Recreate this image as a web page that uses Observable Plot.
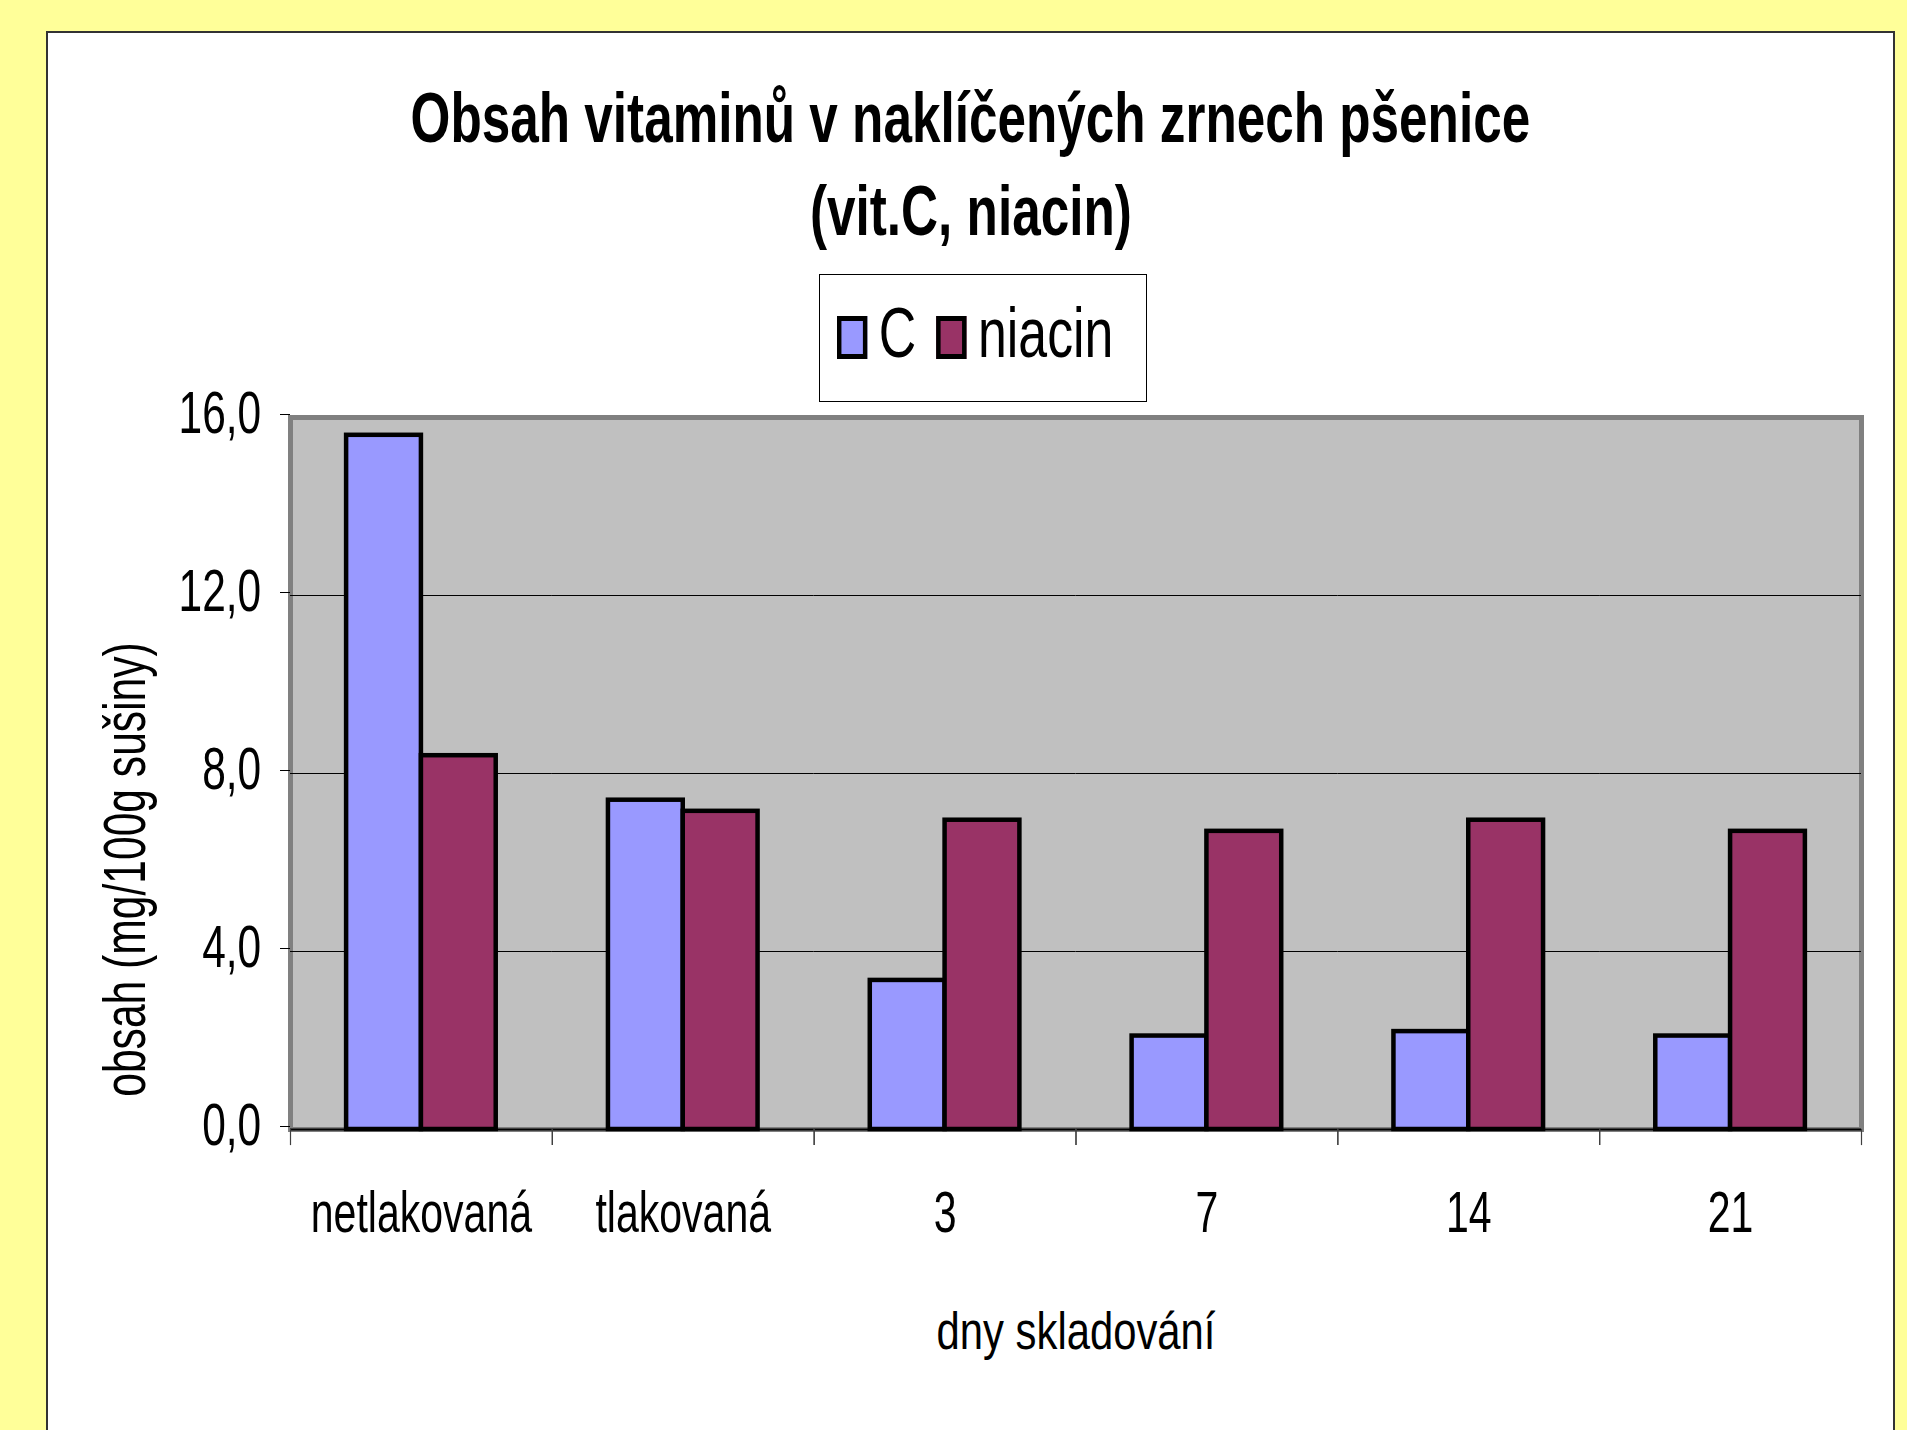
<!DOCTYPE html>
<html><head><meta charset="utf-8">
<script src="https://cdn.jsdelivr.net/npm/d3@7"></script>
<script src="https://cdn.jsdelivr.net/npm/@observablehq/plot@0.6"></script>
<style>
html,body{margin:0;padding:0;overflow:hidden;background:#FFFF99;width:1907px;height:1430px;}
body{position:relative;font-family:"Liberation Sans",Arial,sans-serif;color:#000;}
#panel{position:absolute;left:46px;top:31px;width:1849px;height:1500px;background:#fff;border:2px solid #333;border-bottom:none;box-sizing:border-box;}
#title{position:absolute;left:46px;top:70.9px;width:1849px;font-size:71px;font-weight:bold;line-height:93px;}
#title div{text-align:center;white-space:nowrap;}
#title span{display:inline-block;transform:scaleX(0.722);transform-origin:50% 50%;}
#legend{position:absolute;left:819px;top:274px;width:328px;height:128px;border:1px solid #000;box-sizing:border-box;background:#fff;}
#legendInner{position:absolute;left:17px;top:22.75px;font-size:70px;line-height:70px;white-space:nowrap;transform:scaleX(0.74);transform-origin:0 0;}
.sw{display:inline-block;width:40.5px;height:43px;box-sizing:border-box;border-style:solid;border-color:#000;border-width:5px 6.8px;vertical-align:-2px;margin-right:16px;}
.lab{margin-right:27px;}
#chart{position:absolute;left:0;top:402px;}
#chart svg{max-width:none !important;}
</style></head>
<body>
<div id="panel"></div>
<div id="title"></div>
<div id="legend"><div id="legendInner"></div></div>
<div id="chart"></div>
<script>
const categories = ["netlakovaná", "tlakovaná", "3", "7", "14", "21"];
const series = ["C", "niacin"];
const valuesC = [15.6, 7.4, 3.35, 2.1, 2.2, 2.1];
const valuesNiacin = [8.4, 7.15, 6.95, 6.7, 6.95, 6.7];
const colors = ["#9999FF", "#993366"];
const yTicks = [0, 4, 8, 12, 16];
const yGrid = [4, 8, 12];
const titleLines = ["Obsah vitaminů v naklíčených zrnech pšenice", "(vit.C, niacin)"];
const xTitle = "dny skladování";
const yTitle = "obsah (mg/100g sušiny)";

const FONT = '"Liberation Sans",Arial,sans-serif';
const seriesValues = [valuesC, valuesNiacin];
const table = categories.flatMap((cat, i) => series.map((s, j) => ({cat, series: s, value: seriesValues[j][i]})));

// title
const titleEl = document.getElementById("title");
titleLines.forEach(t => {
  const line = document.createElement("div");
  const span = document.createElement("span");
  span.textContent = t;
  line.appendChild(span);
  titleEl.appendChild(line);
});

// legend
const legendEl = document.getElementById("legendInner");
series.forEach((s, i) => {
  const sw = document.createElement("span");
  sw.className = "sw";
  sw.style.background = colors[i];
  legendEl.appendChild(sw);
  const lab = document.createElement("span");
  lab.className = "lab";
  lab.textContent = s;
  legendEl.appendChild(lab);
});

const W = 1907, H = 1028, mT = 15, mB = 301, mL = 290, mR = 46;
const innerH = H - mT - mB;
const fmt = d => d.toFixed(1).replace(".", ",");

const chart = Plot.plot({
  width: W, height: H,
  marginTop: mT, marginBottom: mB, marginLeft: mL, marginRight: mR,
  style: {background: "transparent", overflow: "visible", fontFamily: FONT, color: "#000"},
  fx: {domain: categories, padding: 0, round: false},
  x: {domain: series, paddingInner: 0, paddingOuter: 0.75, round: false, axis: null},
  y: {domain: [0, 16], nice: false},
  color: {domain: series, range: colors},
  marks: [
    Plot.frame({facet: "super", fill: "#C0C0C0", stroke: "#808080", strokeWidth: 5}),
    Plot.gridY(yGrid, {stroke: "#000", strokeOpacity: 1, strokeWidth: 1}),
    Plot.ruleY([0], {stroke: "#000", strokeWidth: 2}),
    Plot.barY(table, {fx: "cat", x: "series", y: "value", fill: "series", stroke: "#000", strokeWidth: 4.5}),
    Plot.frame({anchor: "left", insetTop: innerH, insetBottom: -15, stroke: "#404040", strokeWidth: 1.2}),
    Plot.frame({anchor: "right", insetTop: innerH, insetBottom: -15, stroke: "#404040", strokeWidth: 1.2}),
    Plot.axisY({ticks: yTicks, tickSize: 10, tickPadding: 19.3, tickFormat: fmt, fontSize: 59, dy: -3, label: null, stroke: "#000"}),
    Plot.axisFx({anchor: "bottom", tickSize: 0, tickPadding: 62.5, fontSize: 57, label: null}),
    Plot.text([xTitle], {facet: "super", frameAnchor: "bottom", text: d => d, textAnchor: "middle", lineAnchor: "middle", dy: 203, fontSize: 51}),
    Plot.text([yTitle], {facet: "super", frameAnchor: "left", text: d => d, textAnchor: "middle", lineAnchor: "middle", rotate: -90, dx: -164.6, dy: 96, fontSize: 60})
  ]
});
document.getElementById("chart").appendChild(chart);

// condense every label horizontally (along its writing direction) about its anchor
d3.select(chart).selectAll("text").each(function() {
  const k = this.textContent === xTitle ? 0.82 : (this.textContent === yTitle ? 0.71 : 0.72);
  const x = +this.getAttribute("x") || 0;
  const y = +this.getAttribute("y") || 0;
  const T = this.getAttribute("transform") || "";
  this.setAttribute("transform", `${T} translate(${x},${y}) scale(${k},1) translate(${-x},${-y})`);
});
</script>
</body></html>
